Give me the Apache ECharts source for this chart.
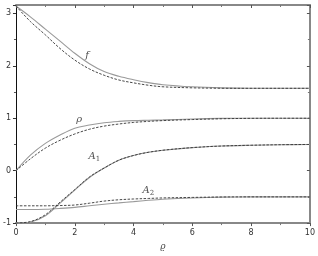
<!DOCTYPE html>
<html><head><meta charset="utf-8">
<script src="https://cdn.jsdelivr.net/npm/echarts@6/dist/echarts.min.js"></script>
<style>html,body{margin:0;padding:0;background:#fff}#c{width:318px;height:256px}</style>
</head><body><div id="c"></div>
<script>
var rhoGrid = [0,0.5,1,1.5,2,2.5,3,3.5,4,4.5,5,6,7,8,9,10];
var fSolid   = [3.14,2.93,2.70,2.47,2.24,2.04,1.89,1.80,1.735,1.68,1.64,1.60,1.58,1.572,1.571,1.571];
var fDashed  = [3.14,2.84,2.59,2.33,2.11,1.94,1.82,1.73,1.675,1.63,1.60,1.58,1.572,1.571,1.571,1.571];
var rSolid   = [0,0.30,0.52,0.68,0.81,0.87,0.915,0.94,0.955,0.962,0.968,0.985,0.997,1.0,1.0,1.0];
var rDashed  = [0,0.23,0.43,0.58,0.70,0.79,0.85,0.89,0.92,0.94,0.955,0.975,0.99,0.998,1.0,1.0];
var a1Solid  = [-1,-0.98,-0.86,-0.62,-0.37,-0.13,0.05,0.20,0.29,0.35,0.39,0.44,0.47,0.485,0.495,0.5];
var a1Dashed = [-1,-0.97,-0.84,-0.60,-0.36,-0.12,0.05,0.20,0.29,0.35,0.39,0.44,0.47,0.485,0.495,0.5];
var a2Solid  = [-0.74,-0.74,-0.735,-0.72,-0.70,-0.67,-0.64,-0.615,-0.59,-0.565,-0.545,-0.52,-0.505,-0.5,-0.5,-0.5];
var a2Dashed = [-0.67,-0.67,-0.67,-0.665,-0.655,-0.62,-0.58,-0.555,-0.54,-0.53,-0.52,-0.51,-0.502,-0.5,-0.5,-0.5];
var xTicks = [0,2,4,6,8,10];
var yTicks = [-1,0,1,2,3];
var curveLabels = [
  {name:'f', x:2.42, y:2.2, text:'f'},
  {name:'rho', x:2.15, y:0.98, text:'ρ'},
  {name:'A1', x:2.67, y:0.27, text:'A{s|1}'},
  {name:'A2', x:4.5, y:-0.37, text:'A{s|2}'}
];

function pairs(ys){ return rhoGrid.map(function(x,i){return [x, ys[i]];}); }
var SOLID = '#9a9a9a', DASH = '#333';
function line(ys, dashed){
  return {type:'line', smooth:0.35, showSymbol:false, symbol:'none', data:pairs(ys),
    lineStyle:{color: dashed?DASH:SOLID, width: dashed?0.9:1.1, type: dashed?[2.5,1.5]:'solid'},
    z: dashed?3:2, animation:false};
}
var chart = echarts.init(document.getElementById('c'), null, {renderer:'canvas'});
var labelStyle = {fontFamily:'DejaVu Serif', fontStyle:'italic', fontSize:10, color:'#222',
  rich:{s:{fontFamily:'DejaVu Serif', fontStyle:'normal', fontSize:7, color:'#222', verticalAlign:'bottom', padding:[6,0,0,0]}}};
chart.setOption({
  animation:false,
  grid:{left:15.5, right:5.5, top:5, bottom:31, containLabel:false},
  xAxis:[{type:'value', min:0, max:10, interval:2, position:'bottom',
    name:'ϱ', nameLocation:'middle', nameGap:18,
    nameTextStyle:{fontFamily:'DejaVu Serif', fontStyle:'italic', fontSize:9, color:'#444'},
    axisLine:{onZero:false, lineStyle:{color:'#888', width:2}},
    axisTick:{show:true, inside:false, length:3, lineStyle:{color:'#555'}},
    minorTick:{show:true, splitNumber:2, length:2, lineStyle:{color:'#777'}},
    splitLine:{show:false},
    axisLabel:{fontFamily:'DejaVu Sans', fontSize:8, color:'#333', margin:6,
      formatter:function(v){return xTicks.indexOf(v)>=0? String(v):'';}}
  },{type:'value', min:0, max:10, interval:2, position:'top',
    axisLine:{show:true, onZero:false, lineStyle:{color:'#888', width:2}},
    axisTick:{show:true, inside:true, length:3, lineStyle:{color:'#555'}},
    minorTick:{show:true, splitNumber:2, length:2, lineStyle:{color:'#777'}},
    splitLine:{show:false}, axisLabel:{show:false}}],
  yAxis:[{type:'value', min:-1, max:3.16, interval:1, position:'left',
    axisLine:{show:true, onZero:false, lineStyle:{color:'#111', width:1}},
    axisTick:{show:true, inside:false, length:3, lineStyle:{color:'#333'}},
    minorTick:{show:true, splitNumber:2, length:2, lineStyle:{color:'#555'}},
    splitLine:{show:false},
    axisLabel:{fontFamily:'DejaVu Sans', fontSize:8, color:'#333', margin:5,
      showMaxLabel:true,
      formatter:function(v){return yTicks.indexOf(v)>=0? String(v):'';}}
  },{type:'value', min:-1, max:3.16, interval:1, position:'right',
    axisLine:{show:true, onZero:false, lineStyle:{color:'#888', width:2}},
    axisTick:{show:true, inside:true, length:3, lineStyle:{color:'#555'}},
    minorTick:{show:true, splitNumber:2, length:2, lineStyle:{color:'#777'}},
    splitLine:{show:false}, axisLabel:{show:false}}],
  series:[
    line(fSolid,false), line(fDashed,true),
    line(rSolid,false), line(rDashed,true),
    line(a1Solid,false), line(a1Dashed,true),
    line(a2Solid,false), line(a2Dashed,true),
    {type:'scatter', symbolSize:0, silent:true, z:5,
      data: curveLabels.map(function(l){return {value:[l.x,l.y], name:l.text};}),
      label:Object.assign({show:true, position:'inside', formatter:function(p){return p.name;}}, labelStyle)}
  ]
});
</script></body></html>
